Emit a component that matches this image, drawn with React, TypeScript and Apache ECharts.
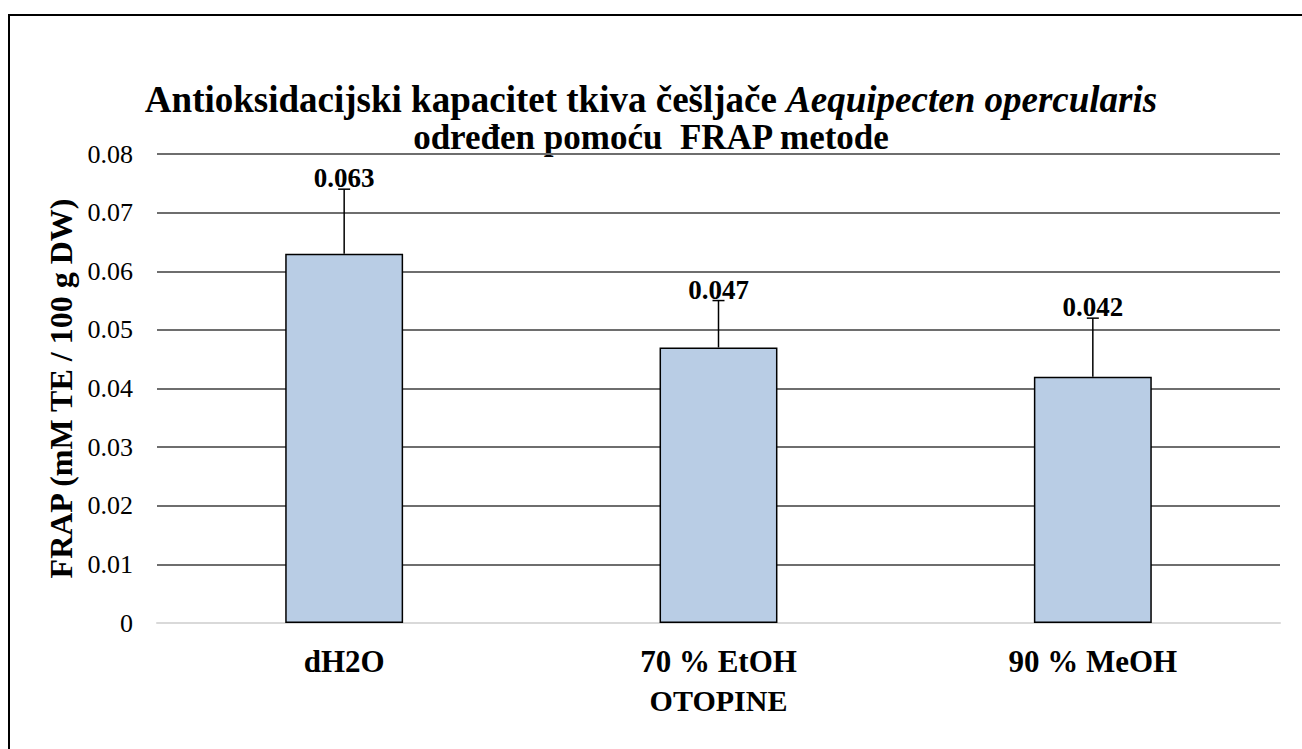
import React, { useEffect, useRef } from "react";
import * as echarts from "echarts";

const categories = ["dH2O", "70 % EtOH", "90 % MeOH"];
const values = [0.063, 0.047, 0.042];
const errors = [0.011, 0.008, 0.01];
const yMin = 0;
const yMax = 0.08;
const yInterval = 0.01;

const titleLine1Plain = "Antioksidacijski kapacitet tkiva češljače ";
const titleLine1Italic = "Aequipecten opercularis";
const titleLine2 = "određen pomoću  FRAP metode";
const yAxisName = "FRAP (mM TE / 100 g DW)";
const xAxisName = "OTOPINE";

const FONT = "Liberation Serif";

export default function App() {
  const ref = useRef<HTMLDivElement>(null);
  useEffect(() => {
    if (!ref.current) return;
    const chart = echarts.init(ref.current, undefined, { renderer: "svg" });
    const option: any = {
      animation: false,
      backgroundColor: "#ffffff",
      textStyle: { fontFamily: FONT },
      grid: { left: 157, right: 22, top: 154, bottom: 126 },
      graphic: [
        {
          type: "rect",
          shape: { x: 9, y: 15, width: 1400, height: 800 },
          style: { fill: "none", stroke: "#000", lineWidth: 2 },
          silent: true,
        },
        {
          type: "text",
          x: 651,
          y: 99,
          style: {
            text: `{b|${titleLine1Plain}}{i|${titleLine1Italic}}`,
            fontFamily: FONT,
            fontSize: 37,
            fontWeight: "bold",
            align: "center",
            verticalAlign: "middle",
            rich: {
              b: { fontFamily: FONT, fontSize: 37, fontWeight: "bold", fill: "#000" },
              i: { fontFamily: FONT, fontSize: 37, fontWeight: "bold", fontStyle: "italic", fill: "#000" },
            },
          },
        },
        {
          type: "text",
          x: 651,
          y: 137,
          style: {
            text: titleLine2,
            fontFamily: FONT,
            fontSize: 35,
            fontWeight: "bold",
            fill: "#000",
            align: "center",
            verticalAlign: "middle",
          },
        },
      ],
      xAxis: {
        type: "category",
        data: categories,
        name: xAxisName,
        nameLocation: "middle",
        nameGap: 62,
        nameTextStyle: { fontFamily: FONT, fontSize: 30, fontWeight: "bold", color: "#000" },
        axisLine: { show: true, lineStyle: { color: "#d9d9d9", width: 2 } },
        axisTick: { show: false },
        axisLabel: { margin: 23, fontFamily: FONT, fontSize: 31, fontWeight: "bold", color: "#000" },
      },
      yAxis: {
        type: "value",
        min: yMin,
        max: yMax,
        interval: yInterval,
        name: yAxisName,
        nameLocation: "middle",
        nameGap: 77,
        nameTextStyle: { fontFamily: FONT, fontSize: 32, fontWeight: "bold", color: "#000" },
        axisLine: { show: false },
        axisTick: { show: false },
        axisLabel: {
          margin: 24,
          fontFamily: FONT,
          fontSize: 26,
          color: "#000",
          formatter: (v: number) => (v === 0 ? "0" : v.toFixed(2)),
        },
        splitLine: { show: true, lineStyle: { color: "#6e6e6e", width: 2 } },
      },
      series: [
        {
          type: "bar",
          data: values,
          barWidth: "31.5%",
          itemStyle: { color: "#B9CDE5", borderColor: "#000", borderWidth: 1.5 },
          z: 2,
        },
        {
          type: "custom",
          data: categories.map((_, i) => [i, values[i], errors[i]]),
          encode: { x: 0, y: 1 },
          z: 3,
          clip: false,
          renderItem: (params: any, api: any) => {
            const i = api.value(0);
            const v = api.value(1);
            const e = api.value(2);
            const base = api.coord([i, v]);
            const top = api.coord([i, v + e]);
            const ls = { stroke: "#000", lineWidth: 1.5 };
            return {
              type: "group",
              children: [
                { type: "line", shape: { x1: base[0], y1: base[1], x2: top[0], y2: top[1] }, style: ls },
                { type: "line", shape: { x1: top[0] - 6, y1: top[1], x2: top[0] + 6, y2: top[1] }, style: ls },
                {
                  type: "text",
                  x: top[0],
                  y: top[1] - 11,
                  style: {
                    text: v.toFixed(3),
                    fontFamily: FONT,
                    fontSize: 27,
                    fontWeight: "bold",
                    fill: "#000",
                    align: "center",
                    verticalAlign: "middle",
                  },
                },
              ],
            };
          },
        },
      ],
    };
    chart.setOption(option);
    return () => chart.dispose();
  }, []);
  return (
    <div
      ref={ref}
      style={{ position: "absolute", left: 0, top: 0, width: 1302, height: 749 }}
    />
  );
}
